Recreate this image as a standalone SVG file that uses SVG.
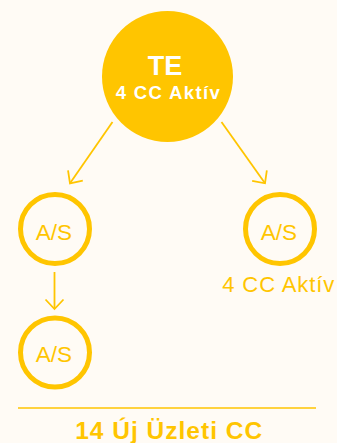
<svg xmlns="http://www.w3.org/2000/svg" width="337" height="443" viewBox="0 0 337 443">
  <defs>
    <marker id="chev" markerUnits="userSpaceOnUse" markerWidth="24" markerHeight="24" viewBox="-12 -12 24 24" refX="0" refY="0" orient="auto">
      <path d="M-9.5,-9 L0,0 L-9.5,9" fill="none" stroke="#FFC500" stroke-width="1.8"/>
    </marker>
  </defs>
  <style>
    .bg { fill: #FFFBF5; }
    .big { fill: #FFC500; }
    .ring { fill: none; stroke: #FFC500; stroke-width: 5; }
    .conn { stroke: #FFC500; stroke-width: 1.8; fill: none; marker-end: url(#chev); }
    .w { fill: #FFFFFF; font-family: "Liberation Sans", Arial, sans-serif; font-weight: bold; text-anchor: middle; }
    .y { fill: #FFC500; font-family: "Liberation Sans", Arial, sans-serif; text-anchor: middle; }
    .yb { fill: #FFC500; font-family: "Liberation Sans", Arial, sans-serif; font-weight: bold; text-anchor: middle; }
  </style>
  <rect class="bg" x="0" y="0" width="337" height="443"/>
  <g id="connectors">
    <line class="conn" x1="112.5" y1="122" x2="70" y2="183.3"/>
    <line class="conn" x1="221.5" y1="122" x2="265" y2="183.3"/>
    <line class="conn" x1="54.5" y1="272" x2="54.5" y2="309"/>
  </g>
  <g id="te">
    <circle class="big" cx="167.5" cy="76.5" r="65.5"/>
    <text class="w" x="165" y="74.5" font-size="27">TE</text>
    <text class="w" x="167.7" y="98.5" font-size="18.5" textLength="104" lengthAdjust="spacing">4 CC Aktív</text>
  </g>
  <g id="as-left">
    <circle class="ring" cx="55" cy="229" r="34.5"/>
    <text class="y" x="54" y="240" font-size="22.5">A/S</text>
  </g>
  <g id="as-right">
    <circle class="ring" cx="280" cy="229" r="34.5"/>
    <text class="y" x="279" y="240" font-size="22.5">A/S</text>
    <text class="y" x="278.2" y="291.7" font-size="22" textLength="112" lengthAdjust="spacing">4 CC Aktív</text>
  </g>
  <g id="as-bottom">
    <circle class="ring" cx="55" cy="352.5" r="34.5"/>
    <text class="y" x="54" y="361.5" font-size="22.5">A/S</text>
  </g>
  <g id="total">
    <line x1="18" y1="408" x2="316" y2="408" stroke="#FFC500" stroke-width="1.5"/>
    <text class="yb" x="168.7" y="439" font-size="24.5" textLength="187" lengthAdjust="spacing">14 Új Üzleti CC</text>
  </g>
</svg>
